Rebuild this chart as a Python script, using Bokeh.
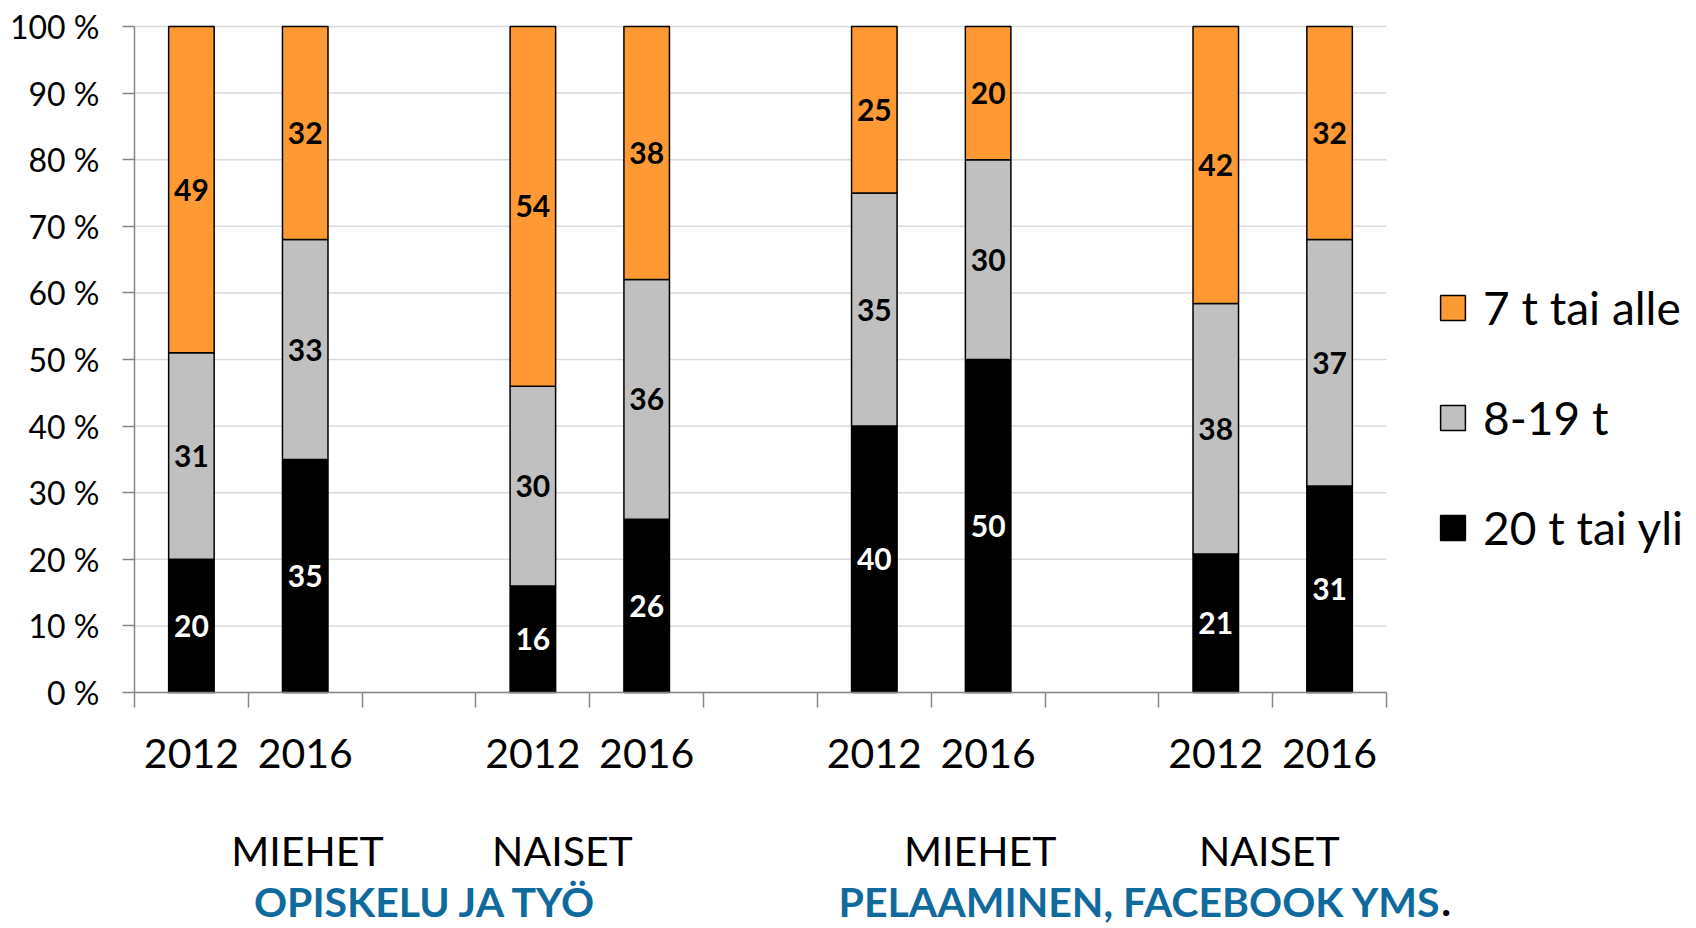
from bokeh.plotting import figure
from bokeh.models import (Range1d, FixedTicker, ColumnDataSource, LinearAxis,
                          Legend, LegendItem)
from bokeh.core.properties import value
from bokeh.embed import file_html
from bokeh.resources import INLINE

# ---------------- data ----------------
years = ["2012", "2016", "2012", "2016", "2012", "2016", "2012", "2016"]
groups = ["MIEHET", "NAISET", "MIEHET", "NAISET"]
sections = ["OPISKELU JA TYÖ", "PELAAMINEN, FACEBOOK YMS"]
series_names = ["20 t tai yli", "8-19 t", "7 t tai alle"]
s_20_plus = [20, 35, 16, 26, 40, 50, 21, 31]
s_8_19 = [31, 33, 30, 36, 35, 30, 38, 37]
s_7_less = [49, 32, 54, 38, 25, 20, 42, 32]
y_ticks = [0, 10, 20, 30, 40, 50, 60, 70, 80, 90, 100]
y_tick_labels = ["0 %", "10 %", "20 %", "30 %", "40 %", "50 %",
                 "60 %", "70 %", "80 %", "90 %", "100 %"]

# ---------------- layout / styles ----------------
W, H = 1696, 928
PLOT_L, PLOT_R, PLOT_T, PLOT_B = 134, 1386, 26, 692
FONT = "Lato"
COLORS = ["#000000", "#C0C0C0", "#FF9933"]
LABEL_COLORS = ["white", "black", "black"]
BLUE = "#0F6A9E"
AXIS_GRAY = "#868686"
GRID_GRAY = "#D9D9D9"

group_x = [1.02, 3.26, 6.93, 9.47]     # label centres in category units
section_x = [2.06, 10.98]              # centre of first, right end of second

xpos = [i + i // 2 for i in range(len(years))]   # gap slot between groups
n_slots = xpos[-1] + 1
x_lo_d, x_hi_d = -0.5, n_slots - 0.5
y_lo_d, y_hi_d = 0, 100

ppx = (PLOT_R - PLOT_L) / (x_hi_d - x_lo_d)
ppy = (PLOT_B - PLOT_T) / (y_hi_d - y_lo_d)
x_range = Range1d(x_lo_d - PLOT_L / ppx, x_hi_d + (W - PLOT_R) / ppx)
y_range = Range1d(y_lo_d - (H - PLOT_B) / ppy, y_hi_d + PLOT_T / ppy)

p = figure(width=W, height=H, output_backend="svg", toolbar_location=None,
           x_range=x_range, y_range=y_range, x_axis_type=None, y_axis_type=None,
           min_border=0)
p.outline_line_color = None
p.xgrid.visible = False
p.ygrid.visible = False
p.background_fill_color = "white"
p.border_fill_color = "white"

# horizontal grid lines
p.segment(x0=x_lo_d, x1=x_hi_d, y0=y_ticks, y1=y_ticks,
          line_color=GRID_GRAY, line_width=1.5)

# stacked bars (100 % stacked)
series = [s_20_plus, s_8_19, s_7_less]
totals = [sum(v) for v in zip(*series)]
renderers = []
bottom = [0.0] * len(years)
for vals, col, lcol in zip(series, COLORS, LABEL_COLORS):
    pct = [v / t * 100 for v, t in zip(vals, totals)]
    top = [b + q for b, q in zip(bottom, pct)]
    mid = [(b + t) / 2 for b, t in zip(bottom, top)]
    src = ColumnDataSource(dict(x=xpos, bottom=bottom, top=top, mid=mid,
                                lab=[str(v) for v in vals]))
    r = p.vbar(x="x", width=0.4, bottom="bottom", top="top", source=src,
               fill_color=col, line_color="black", line_width=1.5)
    renderers.append(r)
    p.text(x="x", y="mid", text="lab", source=src, text_align="center",
           text_baseline="middle", text_font=value(FONT), text_font_style="bold",
           text_font_size="30px", text_color=lcol)
    bottom = top

# axes
yax = LinearAxis(fixed_location=x_lo_d, bounds=(y_lo_d, y_hi_d),
                 ticker=FixedTicker(ticks=y_ticks))
yax.major_label_overrides = {t: l for t, l in zip(y_ticks, y_tick_labels)}
yax.major_label_text_font = FONT
yax.major_label_text_font_size = "32px"
yax.major_label_text_color = "black"
yax.major_label_standoff = 23
yax.major_tick_out = 12
yax.major_tick_in = 0
yax.minor_tick_line_color = None
yax.axis_line_color = AXIS_GRAY
yax.axis_line_width = 1.5
yax.major_tick_line_color = AXIS_GRAY
yax.major_tick_line_width = 1.5
p.add_layout(yax, "left")

bounds = [x_lo_d + i for i in range(n_slots + 1)]
xax = LinearAxis(fixed_location=y_lo_d, bounds=(x_lo_d, x_hi_d),
                 ticker=FixedTicker(ticks=bounds))
xax.major_label_overrides = {b: "" for b in bounds}
xax.major_label_text_font_size = "1px"
xax.major_tick_out = 15
xax.major_tick_in = 0
xax.minor_tick_line_color = None
xax.axis_line_color = AXIS_GRAY
xax.axis_line_width = 1.5
xax.major_tick_line_color = AXIS_GRAY
xax.major_tick_line_width = 1.5
p.add_layout(xax, "below")

# year labels below axis
p.text(x=xpos, y=[y_lo_d] * len(years), text=years, y_offset=61,
       text_align="center", text_baseline="middle", text_font=value(FONT),
       text_font_size="41px", text_color="black")

# group labels
p.text(x=group_x, y=[y_lo_d] * len(groups), text=groups, y_offset=158,
       text_align="center", text_baseline="middle", text_font=value(FONT),
       text_font_size="41px", text_color="black")

# section labels
p.text(x=[section_x[0]], y=[y_lo_d], text=[sections[0]], y_offset=209,
       text_align="center", text_baseline="middle", text_font=value(FONT),
       text_font_style="bold", text_font_size="41px", text_color=BLUE)
p.text(x=[section_x[1]], y=[y_lo_d], text=[sections[1]], y_offset=209,
       text_align="right", text_baseline="middle", text_font=value(FONT),
       text_font_style="bold", text_font_size="41px", text_color=BLUE)
p.text(x=[section_x[1]], y=[y_lo_d], text=["."], y_offset=209,
       text_align="left", text_baseline="middle", text_font=value(FONT),
       text_font_style="bold", text_font_size="41px", text_color="black")

# legend
items = [LegendItem(label=series_names[i], renderers=[renderers[i]]) for i in (2, 1, 0)]
legend = Legend(items=items, location=(1437, 373), padding=0, margin=0,
                glyph_width=31, glyph_height=31, label_height=31,
                label_standoff=15, spacing=55,
                label_text_font=FONT, label_text_font_size="46px",
                label_text_color="black", border_line_alpha=0,
                background_fill_alpha=0)
p.add_layout(legend, "center")

open("out.html", "w").write(file_html(p, INLINE))
